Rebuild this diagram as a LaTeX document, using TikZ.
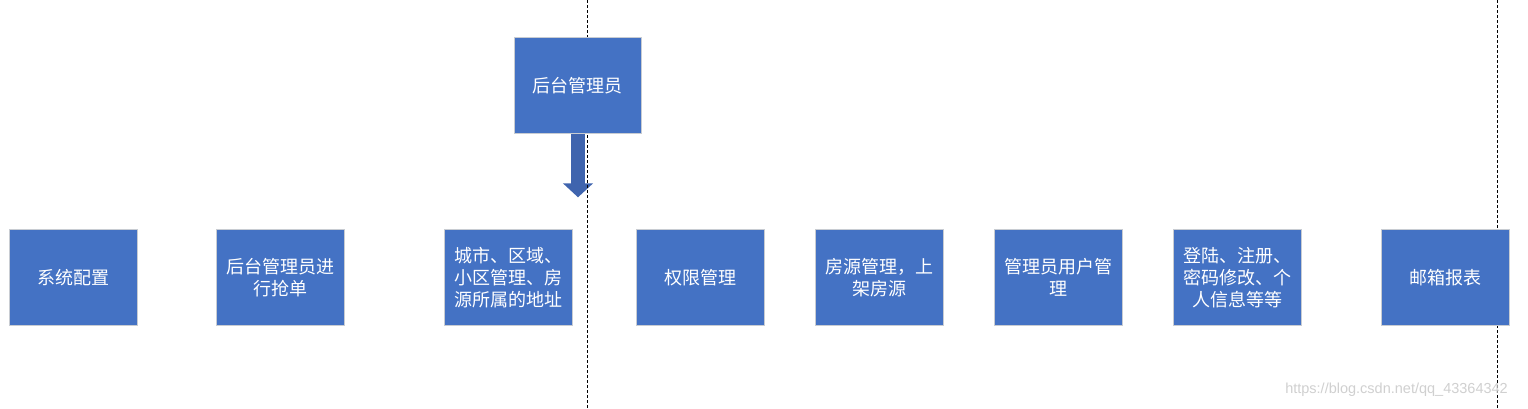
\documentclass[tikz,border=0pt]{standalone}
\usepackage{fontspec}
\newfontfamily\cjk{Noto Sans CJK SC}
\newfontfamily\wmfont{Liberation Sans}
\usetikzlibrary{arrows.meta}
\definecolor{boxblue}{RGB}{68,114,196}
\definecolor{boxedge}{RGB}{200,204,210}
\definecolor{arrowblue}{RGB}{63,100,174}
\definecolor{wmgray}{RGB}{208,208,208}
\tikzset{
  card/.style={draw=boxedge, line width=0.9pt, fill=boxblue, minimum width=128pt, minimum height=96pt,
    inner sep=0pt, align=center, text=white, font=\cjk\fontsize{18}{22}\selectfont},
  divider/.style={draw=black, line width=0.9pt, dash pattern=on 3pt off 2pt},
  blockarrow/.style={draw=arrowblue, line width=13.3pt, line cap=butt,
    -{Triangle[width=29.4pt,length=14pt]}}
}
\begin{document}
\begin{tikzpicture}[x=1pt,y=-1pt]
\useasboundingbox (0,0) rectangle (1528,408);
\fill[white] (0,0) rectangle (1528,408);
% arrow from top box
\coordinate (arrowtip) at (578,197.3);
\coordinate (arrowstart) at (578,133);
\draw[blockarrow] (arrowstart) -- (arrowtip);
% dashed dividers
\coordinate (d1t) at (587.3,0);
\coordinate (d1b) at (587.3,408);
\coordinate (d2t) at (1497.7,0);
\coordinate (d2b) at (1497.7,408);
\draw[divider] (d1t) -- (d1b);
\draw[divider] (d2t) -- (d2b);
% boxes
\node[card, minimum width=127pt] (admin) at (577.7,85.3) {后台管理员};
\node[card] (b1) at (73.3,277.3) {系统配置};
\node[card] (b2) at (280.5,277.3) {后台管理员进\\行抢单};
\node[card] (b3) at (508.5,277.3) {城市、区域、\\小区管理、房\\源所属的地址};
\node[card] (b4) at (700.5,277.3) {权限管理};
\node[card] (b5) at (879.3,277.3) {房源管理，上\\架房源};
\node[card] (b6) at (1058.5,277.3) {管理员用户管\\理};
\node[card] (b7) at (1237.5,277.3) {登陆、注册、\\密码修改、个\\人信息等等};
\node[card] (b8) at (1445.5,277.3) {邮箱报表};
% watermark
\node[text=wmgray, font=\wmfont\fontsize{14.5}{16}\selectfont, inner sep=0pt] (wm) at (1396.5,390) {https://blog.csdn.net/qq\_43364342};
\end{tikzpicture}
\end{document}
